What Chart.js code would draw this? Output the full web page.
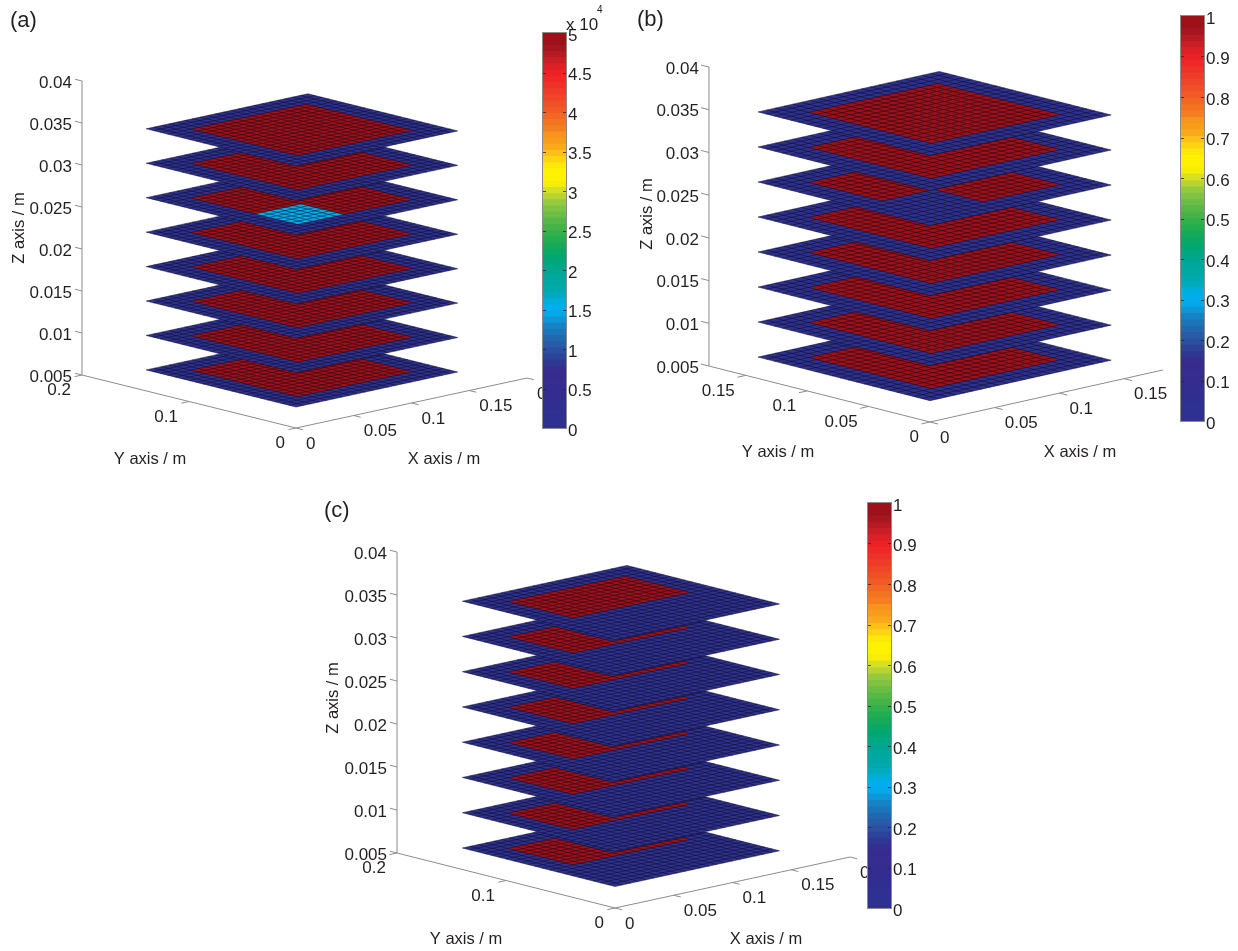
<!DOCTYPE html>
<html>
<head>
<meta charset="utf-8">
<title>Plate stacks</title>
<script src="https://cdn.jsdelivr.net/npm/chart.js@4/dist/chart.umd.min.js"></script>
<style>
    html, body { margin: 0; padding: 0; background: #fff; width: 1238px; height: 951px; overflow: hidden; }
    canvas { position: absolute; display: block; filter: blur(0.4px); }
</style>
</head>
<body>
<canvas id="panelA" style="left:0;top:0" width="630" height="480"></canvas>
<canvas id="barA" style="left:541px;top:0" width="66" height="445"></canvas>
<canvas id="panelB" style="left:630px;top:0" width="608" height="480"></canvas>
<canvas id="barB" style="left:1179px;top:0" width="50" height="440"></canvas>
<canvas id="panelC" style="left:310px;top:490px" width="600" height="461"></canvas>
<canvas id="barC" style="left:866px;top:490px" width="60" height="435"></canvas>
<script>
// height of each plate, bottom to top (m)
const zLevels = [0.0075, 0.0116, 0.0157, 0.0198, 0.0239, 0.0280, 0.0321, 0.0362];
// mesh lines of a plate (m)
const gridEdges = [0, 0.0067, 0.0133, 0.02, 0.0267, 0.0333, 0.04, 0.0467, 0.0533, 0.06, 0.0667, 0.0733,
    0.08, 0.0867, 0.0933, 0.1, 0.1067, 0.1133, 0.12, 0.1267, 0.1333, 0.14];

const zTicks = [0.005, 0.01, 0.015, 0.02, 0.025, 0.03, 0.035, 0.04];
const xTicksWide = [0, 0.05, 0.1, 0.15, 0.2];
const yTicksWide = [0, 0.1, 0.2];
const xTicksNarrow = [0, 0.05, 0.1, 0.15];
const yTicksNarrow = [0, 0.05, 0.1, 0.15];

// regions are [x0, x1, y0, y1, value]
const hotA = [0.02, 0.12, 0.02, 0.12, 5];
const patchA = [0.02, 0.06, 0.02, 0.06, 1.5];
const regionsA = [[hotA], [hotA], [hotA], [hotA], [hotA], [hotA, patchA], [hotA], [hotA]];

const hotB = [0.02, 0.12, 0.02, 0.12, 1];
const notchB = [0.02, 0.06, 0.02, 0.06, 0];
const regionsB = [[hotB], [hotB], [hotB], [hotB], [hotB], [hotB, notchB], [hotB], [hotB]];

const blockC = [0.02, 0.06, 0.06, 0.12, 1];
const stripC = [0.06, 0.12, 0.06, 0.0667, 1];
const fullC = [0.02, 0.12, 0.06, 0.12, 1];
const regionsC = [[blockC, stripC], [blockC, stripC], [blockC, stripC], [blockC, stripC],
    [blockC, stripC], [blockC, stripC], [blockC, stripC], [fullC]];

const ticksBarA = [0, 0.5, 1, 1.5, 2, 2.5, 3, 3.5, 4, 4.5, 5];
const ticksBarUnit = [0, 0.1, 0.2, 0.3, 0.4, 0.5, 0.6, 0.7, 0.8, 0.9, 1];

// colour map, bottom to top
const bandColors = [
    "#2e3192", "#2e3192", "#2f3091", "#302f91", "#312e90", "#332d90", "#352c8f", "#372c8f",
    "#372c8e", "#352d8f", "#2f3792", "#2d4299", "#2b4fa1", "#2a5ba8", "#2268ae", "#1b75bb",
    "#1583c4", "#0e96d6", "#05a9e8", "#00aeef", "#00aedb", "#00abc0", "#00a9ad", "#00a8a2",
    "#00a79d", "#00a78f", "#00a780", "#00a772", "#08a865", "#14aa5a", "#22ad52", "#32b04c",
    "#45b348", "#57b847", "#6abd45", "#80c342", "#96ca3e", "#b8d433", "#d7df23", "#f5ec08",
    "#fff200", "#fff200", "#fee80a", "#fdd411", "#fcbf17", "#faa91a", "#f89c1c", "#f7941d",
    "#f57f20", "#f47321", "#f26722", "#f15a24", "#f05026", "#ef4628", "#ee3c29", "#ed322a",
    "#ed2827", "#ed2024", "#dd2026", "#c81f27", "#b71a24", "#a6161f", "#9c121a", "#a01018"
];

const FONT = '"Liberation Sans", Arial, sans-serif';
const TEXT = "#231f20";
const TICK_LEN = 0.0065;
const GAP = { x: NaN, y: NaN };

function colorFor(value, max) {
    return bandColors[Math.min(bandColors.length - 1, Math.floor(value / max * bandColors.length))];
}

function makeProjector(view) {
    return (x, y, z) => ({
        x: view.origin[0] + x * view.xDir[0] + y * view.yDir[0],
        y: view.origin[1] + x * view.xDir[1] + y * view.yDir[1] - (z - zTicks[0]) * view.zRate
    });
}

function rectPath(p, x0, x1, y0, y1, z) {
    return [p(x0, y0, z), p(x1, y0, z), p(x1, y1, z), p(x0, y1, z), p(x0, y0, z)];
}

function platePanel(id, box, view, regions, maxValue, xTicks, yTicks, text) {
    const p = makeProjector(view);
    const xEnd = xTicks[xTicks.length - 1] === 0.15 ? 0.18 : 0.2;
    const yEnd = yTicks[yTicks.length - 1] === 0.15 ? 0.18 : 0.2;
    const zMin = zTicks[0];
    const zMax = zTicks[zTicks.length - 1];
    const datasets = [];
    const add = (data, style) => {
        datasets.push(Object.assign({ data, showLine: true, pointRadius: 0, tension: 0, order: -datasets.length }, style));
    };

    // box edges and tick marks
    const axisPts = [p(0, 0, zMin), p(xEnd, 0, zMin), GAP, p(0, 0, zMin), p(0, yEnd, zMin), GAP,
        p(0, yEnd, zMin), p(0, yEnd, zMax), GAP];
    xTicks.forEach(t => axisPts.push(p(t, 0, zMin), p(t, -TICK_LEN, zMin), GAP));
    yTicks.forEach(t => axisPts.push(p(0, t, zMin), p(-TICK_LEN, t, zMin), GAP));
    zTicks.forEach(t => axisPts.push(p(0, yEnd, t), p(0, yEnd + TICK_LEN, t), GAP));
    add(axisPts, { borderColor: "#8c8c8c", borderWidth: 1 });

    // plates bottom to top, each one hides what lies under it
    const last = gridEdges[gridEdges.length - 1];
    zLevels.forEach((z, k) => {
        const base = colorFor(0, maxValue);
        add(rectPath(p, 0, last, 0, last, z), { borderWidth: 0, fill: "shape", backgroundColor: base });
        regions[k].forEach(r => {
            add(rectPath(p, r[0], r[1], r[2], r[3], z), {
                borderWidth: 0, fill: "shape", backgroundColor: colorFor(r[4], maxValue)
            });
        });
        const mesh = [];
        gridEdges.forEach(g => {
            mesh.push(p(g, 0, z), p(g, last, z), GAP, p(0, g, z), p(last, g, z), GAP);
        });
        add(mesh, { borderColor: "rgba(10,10,25,0.7)", borderWidth: 0.7 });
    });

    const labels = {
        id: "panelText",
        afterDraw(chart) {
            const ctx = chart.ctx;
            const sx = chart.scales.x;
            const sy = chart.scales.y;
            const put = (str, pt, dx, dy, align) => {
                ctx.textAlign = align;
                ctx.fillText(str, sx.getPixelForValue(pt.x) + dx, sy.getPixelForValue(pt.y) + dy + 2);
            };
            ctx.save();
            ctx.fillStyle = TEXT;
            ctx.textBaseline = "middle";
            ctx.font = "17px " + FONT;
            zTicks.forEach(t => put(String(t), p(0, yEnd, t), -10, 0, "right"));
            xTicks.forEach(t => put(String(t), p(t, 0, zMin), 10, 14, "left"));
            yTicks.forEach(t => put(String(t), p(0, t, zMin), -11, 13.5, "right"));
            ctx.font = "16.5px " + FONT;
            put("X axis / m", { x: text.xTitle[0], y: text.xTitle[1] }, 0, 0, "center");
            put("Y axis / m", { x: text.yTitle[0], y: text.yTitle[1] }, 0, 0, "center");
            ctx.save();
            ctx.translate(sx.getPixelForValue(text.zTitle[0]) + 2, sy.getPixelForValue(text.zTitle[1]));
            ctx.rotate(-Math.PI / 2);
            ctx.textAlign = "center";
            ctx.fillText("Z axis / m", 0, 0);
            ctx.restore();
            ctx.font = "22px " + FONT;
            put(text.tag, { x: text.tagAt[0], y: text.tagAt[1] }, 0, -1, "left");
            ctx.restore();
        }
    };

    return new Chart(document.getElementById(id), {
        type: "scatter",
        data: { datasets },
        options: {
            responsive: false,
            animation: false,
            events: [],
            layout: { padding: 0 },
            plugins: { legend: { display: false }, tooltip: { enabled: false } },
            scales: {
                x: { type: "linear", display: false, min: box.left, max: box.left + box.width },
                y: { type: "linear", display: false, reverse: true, min: box.top, max: box.top + box.height }
            }
        },
        plugins: [labels]
    });
}

function colorBar(id, barTop, barBottom, maxValue, ticks, exponent) {
    const canvas = document.getElementById(id);
    const datasets = bandColors.map((c, i) => ({
        data: [(i + 1) * maxValue / bandColors.length],
        backgroundColor: c,
        borderWidth: 0,
        categoryPercentage: 1,
        barPercentage: 1
    }));
    const frame = {
        id: "barFrame",
        afterDatasetsDraw(chart) {
            const { ctx, chartArea: a, scales } = chart;
            ctx.save();
            ctx.strokeStyle = "#8c8c8c";
            ctx.lineWidth = 1;
            ctx.strokeRect(a.left - 0.5, a.top - 0.5, a.width + 1, a.height + 1);
            ctx.strokeStyle = "rgba(40,40,40,0.8)";
            ticks.forEach(t => {
                const y = Math.round(scales.y.getPixelForValue(t)) + 0.5;
                if (t === ticks[0] || t === ticks[ticks.length - 1]) return;
                ctx.beginPath();
                ctx.moveTo(a.left, y);
                ctx.lineTo(a.left + 3, y);
                ctx.moveTo(a.right - 3, y);
                ctx.lineTo(a.right, y);
                ctx.stroke();
            });
            ctx.restore();
        },
        afterDraw(chart) {
            if (!exponent) return;
            const { ctx, chartArea: a } = chart;
            ctx.save();
            ctx.fillStyle = TEXT;
            ctx.textBaseline = "middle";
            ctx.textAlign = "left";
            ctx.font = "17px " + FONT;
            ctx.fillText("x 10", a.right, 25);
            ctx.font = "10px " + FONT;
            ctx.fillText(exponent, a.right + 31, 10);
            ctx.restore();
        }
    };
    return new Chart(canvas, {
        type: "bar",
        data: { labels: [""], datasets },
        options: {
            responsive: false,
            animation: false,
            events: [],
            layout: { padding: { left: 2, right: 0, top: barTop, bottom: barBottom } },
            plugins: { legend: { display: false }, tooltip: { enabled: false } },
            scales: {
                x: { display: false, stacked: true },
                y: {
                    position: "right",
                    min: 0,
                    max: maxValue,
                    stacked: false,
                    afterFit: s => { s.width = canvas.width - 25; },
                    afterBuildTicks: s => { s.ticks = ticks.map(v => ({ value: v })); },
                    grid: { display: false, drawTicks: false },
                    border: { display: false },
                    ticks: {
                        color: TEXT,
                        padding: 2,
                        labelOffset: 3,
                        font: { family: FONT, size: 17 },
                        callback: v => String(v)
                    }
                }
            }
        },
        plugins: [frame]
    });
}

platePanel("panelA", { left: 0, top: 0, width: 630, height: 480 },
    { origin: [296, 428], xDir: [1155, -250], yDir: [-1070, -265], zRate: 8400 },
    regionsA, 5, xTicksWide, yTicksWide,
    { tag: "(a)", tagAt: [10, 20], xTitle: [444, 457], yTitle: [150, 457], zTitle: [17, 228] });

platePanel("panelB", { left: 630, top: 0, width: 608, height: 480 },
    { origin: [930, 422], xDir: [1294, -289], yDir: [-1228, -311], zRate: 8543 },
    regionsB, 1, xTicksNarrow, yTicksNarrow,
    { tag: "(b)", tagAt: [637, 19], xTitle: [1080, 450], yTitle: [778, 450], zTitle: [645, 214] });

platePanel("panelC", { left: 310, top: 490, width: 600, height: 461 },
    { origin: [615, 908], xDir: [1175, -255], yDir: [-1090, -275], zRate: 8600 },
    regionsC, 1, xTicksWide, yTicksWide,
    { tag: "(c)", tagAt: [324, 510], xTitle: [766, 937], yTitle: [466, 937], zTitle: [331, 698] });

colorBar("barA", 33, 17, 5, ticksBarA, "4");
colorBar("barB", 16, 19, 1, ticksBarUnit, "");
colorBar("barC", 13, 17, 1, ticksBarUnit, "");
</script>
</body>
</html>
